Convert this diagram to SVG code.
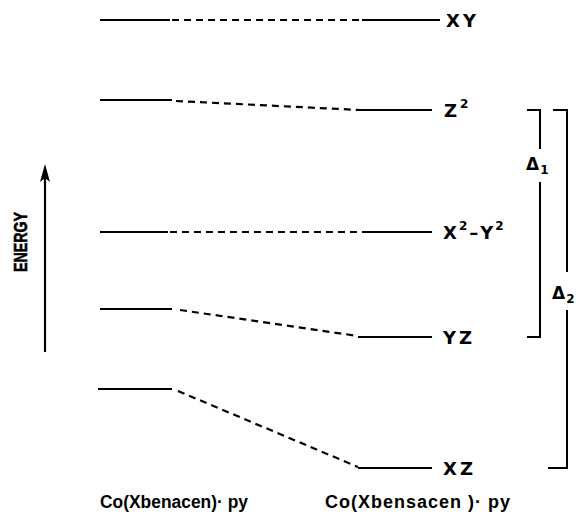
<svg xmlns="http://www.w3.org/2000/svg" width="580" height="523" viewBox="0 0 580 523">
<defs>
<style>
.lvl{stroke:#000;stroke-width:2.2;fill:none}
.dash{stroke:#000;stroke-width:2.2;fill:none;stroke-dasharray:7 5}
.br{stroke:#000;stroke-width:2;fill:none}
.t{font-family:"DejaVu Sans","Liberation Sans",sans-serif;font-weight:bold;fill:#000}
.lt{font-size:18px;letter-spacing:3px}
.bt{font-family:"Liberation Sans","DejaVu Sans",sans-serif;font-size:18px}
.sup{font-size:12px}
</style>
</defs>
<rect width="580" height="523" fill="#fff"/>
<g id="levels">
<g id="XY">
<line class="lvl" x1="100" y1="20" x2="170" y2="20"/>
<line class="lvl" x1="362" y1="20" x2="440" y2="20"/>
<text class="t lt" x="446" y="27">XY</text>
</g>
<g id="Z2">
<line class="lvl" x1="100" y1="100" x2="172" y2="100"/>
<line class="lvl" x1="360" y1="110" x2="432" y2="110"/>
<text class="t lt" x="444" y="117">Z<tspan class="sup" dy="-9" dx="0">2</tspan></text>
</g>
<g id="X2-Y2">
<line class="lvl" x1="100" y1="232" x2="168" y2="232"/>
<line class="lvl" x1="362" y1="232" x2="432" y2="232"/>
<text class="t lt" x="443" y="239" style="letter-spacing:1px">X<tspan class="sup" dy="-9" dx="1">2</tspan><tspan dy="9" dx="1">–</tspan><tspan dx="1">Y</tspan><tspan class="sup" dy="-9" dx="1">2</tspan></text>
</g>
<g id="YZ">
<line class="lvl" x1="100" y1="309" x2="172" y2="309"/>
<line class="lvl" x1="358" y1="337" x2="432" y2="337"/>
<text class="t lt" x="443" y="344">YZ</text>
</g>
<g id="XZ">
<line class="lvl" x1="98" y1="389" x2="172" y2="389"/>
<line class="lvl" x1="358" y1="468" x2="432" y2="468"/>
<text class="t lt" x="443" y="475">XZ</text>
</g>
</g>
<g id="connectors">
<line class="dash" x1="172" y1="20" x2="362" y2="20"/>
<line class="dash" x1="176" y1="101" x2="360" y2="110"/>
<line class="dash" x1="170" y1="232" x2="362" y2="232"/>
<line class="dash" x1="180" y1="310" x2="358" y2="336"/>
<line class="dash" x1="178" y1="391" x2="358" y2="467"/>
</g>
<g id="delta1">
<path class="br" d="M527 110 H540 V149"/>
<path class="br" d="M540 182 V337 H527"/>
<text class="t" font-size="17" x="526" y="170">Δ<tspan class="sup" dy="4" dx="1">1</tspan></text>
</g>
<g id="delta2">
<path class="br" d="M553 110 H567 V272"/>
<path class="br" d="M567 310 V468 H548"/>
<text class="t" font-size="17" x="552" y="299">Δ<tspan class="sup" dy="4" dx="1">2</tspan></text>
</g>
<g id="energy">
<line x1="45" y1="352" x2="45" y2="175" stroke="#000" stroke-width="2.2"/>
<path d="M45 164 L50 182 L45 178 L40 182 Z" fill="#000"/>
<text font-family="Liberation Sans, DejaVu Sans, sans-serif" font-weight="bold" font-size="18" stroke="#000" stroke-width="0.6" transform="translate(27 242) rotate(-90)" text-anchor="middle" textLength="60" lengthAdjust="spacingAndGlyphs">ENERGY</text>
</g>
<g id="labels">
<text class="t bt" x="100" y="508" textLength="148" lengthAdjust="spacingAndGlyphs">Co(Xbenacen)· py</text>
<text class="t bt" x="325" y="508" textLength="185" lengthAdjust="spacing">Co(Xbensacen )· py</text>
</g>
</svg>
